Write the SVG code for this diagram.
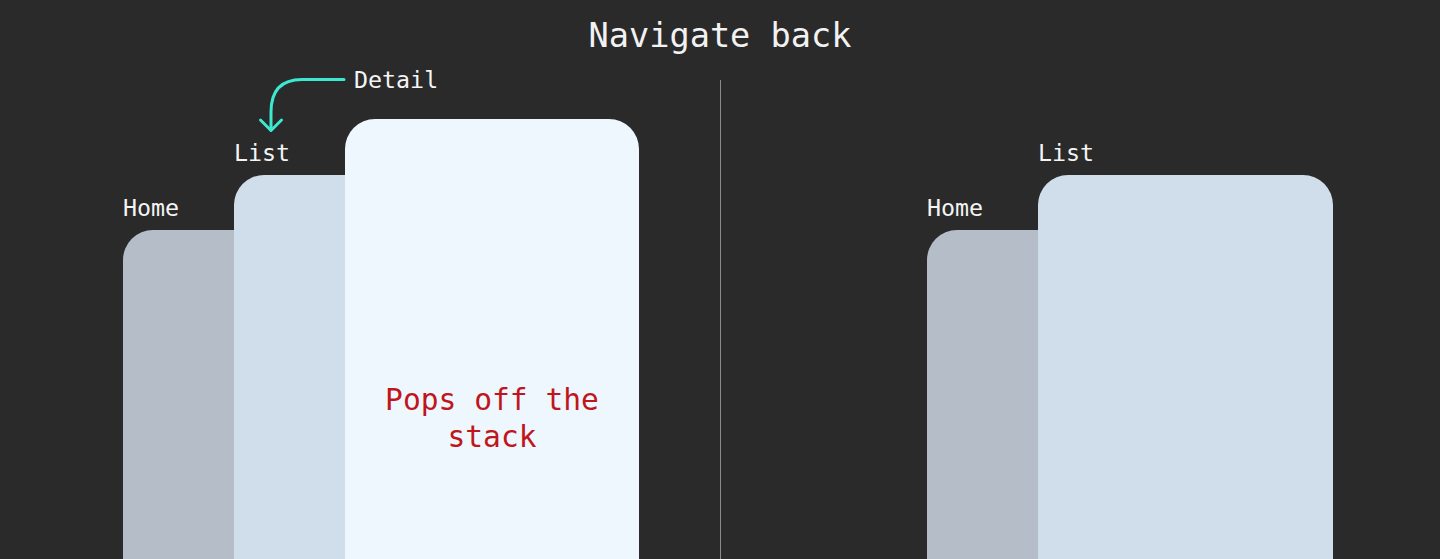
<svg xmlns="http://www.w3.org/2000/svg" width="1440" height="559" viewBox="0 0 1440 559">
<style>
text{font-family:"DejaVu Sans Mono","Liberation Mono",monospace;}
.title{font-size:33.6px;fill:#f2f2f2;}
.lbl{font-size:23.3px;fill:#f4f4f4;}
.pop{font-size:29.6px;fill:#c0161b;}
.home{fill:#b5bec8;}
.list{fill:#cfdeea;}
.detail{fill:#eef6fe;}
</style>
<rect width="1440" height="559" fill="#2a2a2a"/>
<text class="title" x="720" y="47" text-anchor="middle">Navigate back</text>
<line x1="720.5" y1="80" x2="720.5" y2="559" stroke="#8a8a8a" stroke-width="1"/>
<g id="left-home"><rect class="home" x="123" y="230" width="295" height="400" rx="30"/><text class="lbl" x="123" y="216">Home</text></g>
<g id="left-list"><rect class="list" x="234" y="175" width="295" height="450" rx="30"/><text class="lbl" x="234" y="161">List</text></g>
<g id="left-detail"><rect class="detail" x="345" y="119" width="294" height="500" rx="30"/><text class="lbl" x="354" y="88">Detail</text>
<text class="pop" x="492" y="410" text-anchor="middle">Pops off the</text>
<text class="pop" x="492" y="447" text-anchor="middle">stack</text></g>
<g id="right-home"><rect class="home" x="927" y="230" width="295" height="400" rx="30"/><text class="lbl" x="927" y="216">Home</text></g>
<g id="right-list"><rect class="list" x="1038" y="175" width="295" height="450" rx="30"/><text class="lbl" x="1038" y="161">List</text></g>
<g id="connectors" fill="none" stroke="#3de8d0" stroke-width="3" stroke-linecap="round" stroke-linejoin="round">
<path d="M344 79.5 H302 Q271 79.5 271 112 V130"/>
<path d="M260.5 120 L271 130.5 L281.5 120"/>
</g>
</svg>
